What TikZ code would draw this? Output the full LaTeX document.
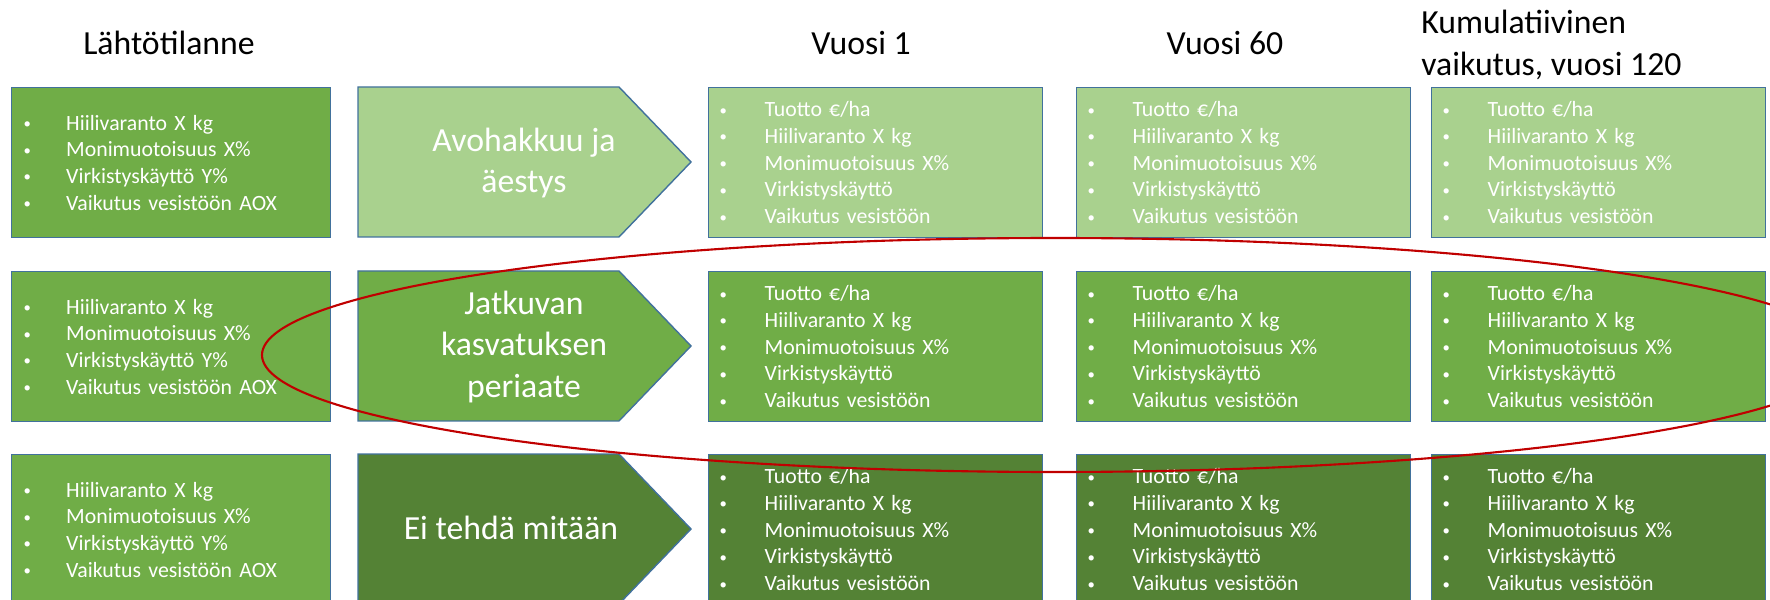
\documentclass[tikz,border=0pt]{standalone}
\usepackage{fontspec}
\setmainfont{Carlito}
\usepackage{xcolor}
\definecolor{lightgreen}{HTML}{A9D18E}
\definecolor{midgreen}{HTML}{70AD47}
\definecolor{darkgreen}{HTML}{548235}
\definecolor{boxline}{HTML}{41719C}
\definecolor{ringred}{HTML}{C00000}
\newlength{\bulletgap}
\setlength{\bulletgap}{4.3mm}
\newcommand{\bl}{\makebox[\bulletgap][l]{\raisebox{0.45pt}{\fontsize{4.2}{4.2}\selectfont\textbullet}}}
\newcommand{\startlist}{\bl Hiilivaranto X kg\\ \bl Monimuotoisuus X\%\\ \bl Virkistyskäyttö Y\%\\ \bl Vaikutus vesistöön AOX}
\newcommand{\yearlist}{\bl Tuotto €/ha\\ \bl Hiilivaranto X kg\\ \bl Monimuotoisuus X\%\\ \bl Virkistyskäyttö\\ \bl Vaikutus vesistöön}
\tikzset{
  infobox/.style={draw=boxline,line width=0.4pt,rectangle,text=white,align=left,anchor=north west,
    inner ysep=0pt,font=\fontsize{6.2}{7.6}\selectfont,minimum height=15mm},
  startbox/.style={infobox,fill=midgreen,inner xsep=1.2mm,minimum width=31.9mm,text width=29.5mm,
    execute at begin node={\setlength{\bulletgap}{4.25mm}}},
  yearbox/.style={infobox,inner xsep=1.1mm,minimum width=33.4mm,text width=31.2mm,
    execute at begin node={\setlength{\bulletgap}{4.5mm}}},
  chevron/.style={draw=boxline,line width=0.4pt},
  chevtext/.style={text=white,align=center,font=\fontsize{9.6}{11.7}\selectfont},
  heading/.style={text=black,font=\fontsize{9.6}{11.9}\selectfont},
  ring/.style={draw=ringred,line width=0.6pt}
}

\begin{document}
\begin{tikzpicture}[x=0.1mm,y=-0.1mm]
\useasboundingbox (0,0) rectangle (1770,600);
\clip (0,0) rectangle (1770,600);

% column headings
\node[heading] (hstart) at (169,43) {Lähtötilanne};
\node[heading] (hyear1) at (861,43) {Vuosi 1};
\node[heading] (hyear60) at (1225,43) {Vuosi 60};
\node[heading,align=left,anchor=west] (hyear120) at (1409,45) {Kumulatiivinen\\vaikutus, vuosi 120};

% starting situation
\node[startbox] (start1) at (11,87) {\startlist};
\node[startbox] (start2) at (11,271) {\startlist};
\node[startbox] (start3) at (11,454) {\startlist};

% treatments
\draw[chevron,fill=lightgreen] (358,87) -- (619,87) -- (691,162) -- (619,237) -- (358,237) -- cycle;
\node[chevtext] (avohakkuu) at (524,163) {Avohakkuu ja\\äestys};
\draw[chevron,fill=midgreen] (358,271) -- (619,271) -- (691,346) -- (619,421) -- (358,421) -- cycle;
\node[chevtext] (jatkuva) at (524,347) {Jatkuvan\\kasvatuksen\\periaate};
\draw[chevron,fill=darkgreen] (358,454) -- (619,454) -- (691,529) -- (619,604) -- (358,604) -- cycle;
\node[chevtext] (eitehda) at (511,528) {Ei tehdä mitään};

% results, row 1
\node[yearbox,fill=lightgreen] (y1a) at (708,87) {\yearlist};
\node[yearbox,fill=lightgreen] (y60a) at (1076,87) {\yearlist};
\node[yearbox,fill=lightgreen] (y120a) at (1431,87) {\yearlist};
% results, row 2
\node[yearbox,fill=midgreen] (y1b) at (708,271) {\yearlist};
\node[yearbox,fill=midgreen] (y60b) at (1076,271) {\yearlist};
\node[yearbox,fill=midgreen] (y120b) at (1431,271) {\yearlist};
% results, row 3
\node[yearbox,fill=darkgreen] (y1c) at (708,454) {\yearlist};
\node[yearbox,fill=darkgreen] (y60c) at (1076,454) {\yearlist};
\node[yearbox,fill=darkgreen] (y120c) at (1431,454) {\yearlist};

% highlight
\draw[ring] (1055,355) ellipse [x radius=79.3mm, y radius=11.7mm];
\end{tikzpicture}
\end{document}
